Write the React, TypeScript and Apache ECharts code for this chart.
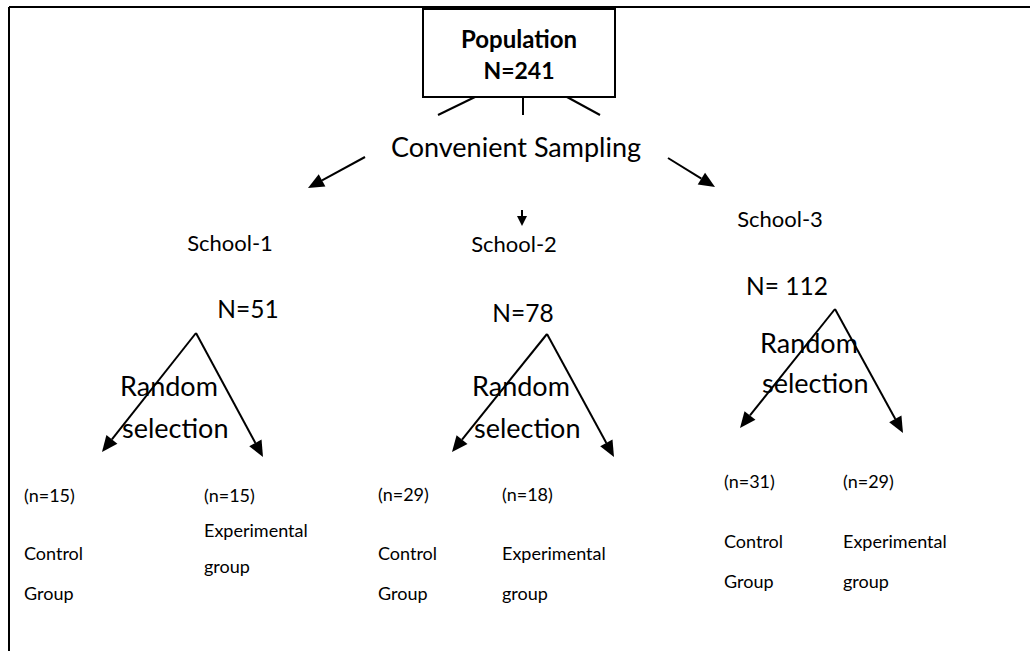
import React, { useEffect, useRef } from "react";
import * as echarts from "echarts";

const populationLabel = "Population";
const populationN = 241;
const samplingLabel = "Convenient Sampling";
const schools = ["School-1", "School-2", "School-3"];
const schoolN = [51, 78, 112];
const controlN = [15, 29, 31];
const experimentalN = [15, 18, 29];
const selectionLabel = ["Random", "selection"];
const controlLabel = ["Control", "Group"];
const experimentalLabel = ["Experimental", "group"];

const FONT = "Lato, 'Open Sans', sans-serif";

function arrow(x1: number, y1: number, x2: number, y2: number, head = 16, half = 7): any[] {
  const dx = x2 - x1;
  const dy = y2 - y1;
  const len = Math.sqrt(dx * dx + dy * dy);
  const ux = dx / len;
  const uy = dy / len;
  const bx = x2 - ux * head;
  const by = y2 - uy * head;
  const px = -uy;
  const py = ux;
  return [
    { type: "line", shape: { x1, y1, x2: bx, y2: by }, style: { stroke: "#000", lineWidth: 2 } },
    {
      type: "polygon",
      shape: { points: [[x2, y2], [bx + px * half, by + py * half], [bx - px * half, by - py * half]] },
      style: { fill: "#000" },
    },
  ];
}

function txt(text: string, x: number, y: number, size: number, align = "left", bold = false): any {
  return {
    type: "text",
    x,
    y,
    style: {
      text,
      fill: "#000",
      font: `${bold ? "bold " : ""}${size}px ${FONT}`,
      textAlign: align,
      textVerticalAlign: "middle",
    },
  };
}

export default function App() {
  const ref = useRef<HTMLDivElement>(null);
  useEffect(() => {
    if (!ref.current) return;
    const chart = echarts.init(ref.current, null, { renderer: "svg" });

    const els: any[] = [];
    // frame
    els.push({ type: "line", shape: { x1: 9, y1: 7, x2: 1030, y2: 7 }, style: { stroke: "#000", lineWidth: 2 } });
    els.push({ type: "line", shape: { x1: 9, y1: 7, x2: 9, y2: 651 }, style: { stroke: "#000", lineWidth: 2 } });
    // population box
    els.push({ type: "rect", shape: { x: 423, y: 9, width: 192, height: 88 }, style: { fill: "#fff", stroke: "#000", lineWidth: 2 } });
    els.push(txt(populationLabel, 519, 38, 24, "center", true));
    els.push(txt(`N=${populationN}`, 519, 70, 23, "center", true));
    // connectors
    els.push({ type: "line", shape: { x1: 475, y1: 97, x2: 438, y2: 115 }, style: { stroke: "#000", lineWidth: 2 } });
    els.push({ type: "line", shape: { x1: 523, y1: 97, x2: 523, y2: 115 }, style: { stroke: "#000", lineWidth: 2 } });
    els.push({ type: "line", shape: { x1: 567, y1: 97, x2: 600, y2: 115 }, style: { stroke: "#000", lineWidth: 2 } });
    els.push(txt(samplingLabel, 516, 146, 27, "center"));
    els.push(...arrow(365, 157, 308, 188));
    els.push(...arrow(522, 210, 522, 226, 10, 5));
    els.push(...arrow(668, 158, 715, 187));

    const schoolPos = [
      { sx: 230, sy: 242, nx: 248, ny: 308, ax: 196, ay: 333, lx: 102, ly: 452, rx: 263, ry: 457, tx: 120, ty1: 385, ty2: 427 },
      { sx: 514, sy: 243, nx: 523, ny: 312, ax: 547, ay: 334, lx: 452, ly: 452, rx: 614, ry: 457, tx: 472, ty1: 385, ty2: 427 },
      { sx: 780, sy: 218, nx: 787, ny: 285, ax: 835, ay: 309, lx: 740, ly: 428, rx: 903, ry: 433, tx: 760, ty1: 342, ty2: 382 },
    ];
    const groupPos = [
      { cx: 24, cny: 495, cly: 553, ex: 204, eny: 495, ely: 530 },
      { cx: 378, cny: 494, cly: 553, ex: 502, eny: 494, ely: 553 },
      { cx: 724, cny: 481, cly: 541, ex: 843, eny: 481, ely: 541 },
    ];
    schools.forEach((s, i) => {
      const p = schoolPos[i];
      els.push(txt(s, p.sx, p.sy, 22, "center"));
      els.push(txt(i === 2 ? `N= ${schoolN[i]}` : `N=${schoolN[i]}`, p.nx, p.ny, 24.5, "center"));
      els.push(txt(selectionLabel[0], p.tx, p.ty1, 27));
      els.push(txt(selectionLabel[1], p.tx + 2, p.ty2, 27));
      els.push(...arrow(p.ax, p.ay, p.lx, p.ly));
      els.push(...arrow(p.ax, p.ay, p.rx, p.ry));
      const g = groupPos[i];
      els.push(txt(`(n=${controlN[i]})`, g.cx, g.cny, 18));
      els.push(txt(controlLabel[0], g.cx, g.cly, 18));
      els.push(txt(controlLabel[1], g.cx, g.cly + 40, 18));
      els.push(txt(`(n=${experimentalN[i]})`, g.ex, g.eny, 18));
      els.push(txt(experimentalLabel[0], g.ex, g.ely, 18));
      els.push(txt(experimentalLabel[1], g.ex, g.ely + (i === 0 ? 36 : 40), 18));
    });

    chart.setOption({
      animation: false,
      backgroundColor: "#fff",
      graphic: { elements: els },
    });
    return () => chart.dispose();
  }, []);
  return <div ref={ref} style={{ position: "fixed", left: 0, top: 0, width: 1030, height: 651 }} />;
}
